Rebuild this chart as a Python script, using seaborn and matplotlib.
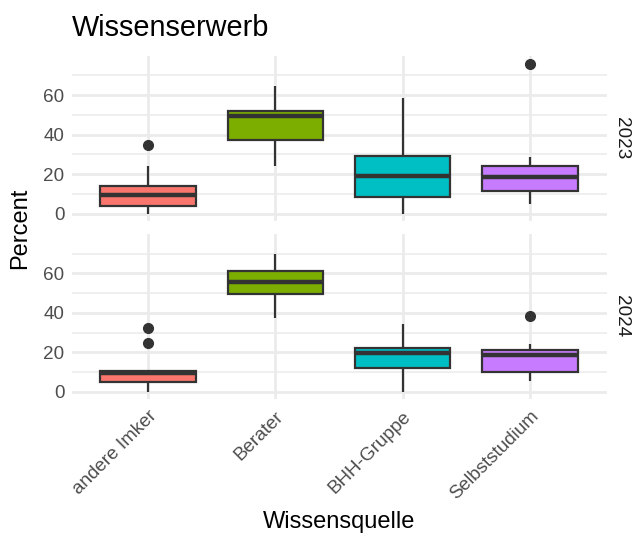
import pandas as pd
import matplotlib
matplotlib.use("Agg")
import matplotlib.pyplot as plt
import seaborn as sns

# Werte je Quelle und Jahr
sources = ["andere Imker", "Berater", "BHH-Gruppe", "Selbststudium"]
colors = ["#F8766D", "#7CAE00", "#00BFC4", "#C77CFF"]
years = ["2023", "2024"]

imker_2023 = [0, 2, 3.9, 6, 9.4, 12, 14.1, 23.9, 34.8]
berater_2023 = [23.9, 37.1, 49.4, 52.1, 64.7]
bhh_2023 = [0, 8.7, 19.3, 29.1, 58.5]
selbst_2023 = [5.0, 8, 11.3, 15, 18.7, 22, 24.2, 28.6, 76]

imker_2024 = [0, 3, 5.3, 7, 9.5, 10, 10.7, 24.8, 32.2]
berater_2024 = [37.5, 49.6, 55.8, 61.0, 69.7]
bhh_2024 = [0, 12.1, 19.7, 22.5, 34.5]
selbst_2024 = [5.7, 8, 10.0, 14, 18.7, 20, 21.2, 24.5, 38.7]

values = {
    "2023": [imker_2023, berater_2023, bhh_2023, selbst_2023],
    "2024": [imker_2024, berater_2024, bhh_2024, selbst_2024],
}
rows = []
for year in years:
    for src, vals in zip(sources, values[year]):
        for v in vals:
            rows.append({"Jahr": year, "Wissensquelle": src, "Percent": v})
df = pd.DataFrame(rows)

sns.set_style("white")
plt.rcParams["font.family"] = ["Liberation Sans", "DejaVu Sans"]

W, H = 633, 535
fig, axes = plt.subplots(2, 1, figsize=(W / 100, H / 100), dpi=100, sharex=True, sharey=True)
fig.subplots_adjust(left=71.5 / W, right=606.5 / W, top=1 - 56 / H, bottom=1 - 399.5 / H, hspace=0.079)

for ax, year in zip(axes, years):
    sub = df[df["Jahr"] == year]
    sns.boxplot(data=sub, x="Wissensquelle", y="Percent", hue="Wissensquelle",
                order=sources, hue_order=sources, palette=colors, legend=False,
                saturation=1, width=0.75, linecolor="#333333", linewidth=1.6,
                showcaps=False,
                medianprops={"linewidth": 3.2, "color": "#333333"},
                flierprops={"marker": "o", "markerfacecolor": "#333333",
                            "markeredgecolor": "#333333", "markersize": 7},
                ax=ax, zorder=3)
    ax.set_xlim(-0.6, 3.6)
    ax.set_ylim(-3.8, 79.8)
    ax.set_yticks([0, 20, 40, 60])
    ax.set_yticks([10, 30, 50, 70], minor=True)
    ax.grid(which="major", color="#EBEBEB", linewidth=2.0, zorder=0)
    ax.grid(which="minor", axis="y", color="#EBEBEB", linewidth=1.1, zorder=0)
    ax.set_axisbelow(True)
    for s in ax.spines.values():
        s.set_visible(False)
    ax.tick_params(axis="both", which="both", length=0, labelsize=13.6, labelcolor="#4D4D4D")
    ax.tick_params(axis="y", pad=5)
    ax.set_xlabel("")
    ax.set_ylabel("")

axes[1].tick_params(axis="x", pad=6)
for lab in axes[1].get_xticklabels():
    lab.set_rotation(45)
    lab.set_ha("right")
    lab.set_rotation_mode("anchor")

fig.text(622 / W, 1 - 138 / H, "2023", rotation=-90, ha="center", va="center", fontsize=13.6, color="#1A1A1A")
fig.text(622 / W, 1 - 316 / H, "2024", rotation=-90, ha="center", va="center", fontsize=13.6, color="#1A1A1A")

fig.text(72 / W, 1 - 28 / H, "Wissenserwerb", ha="left", va="center", fontsize=20.8, color="black")
fig.text(20 / W, 1 - 228 / H, "Percent", rotation=90, ha="center", va="center", fontsize=17, color="black")
fig.text(339 / W, 1 - 522 / H, "Wissensquelle", ha="center", va="center", fontsize=17, color="black")

fig.savefig("out.png", dpi=100)
